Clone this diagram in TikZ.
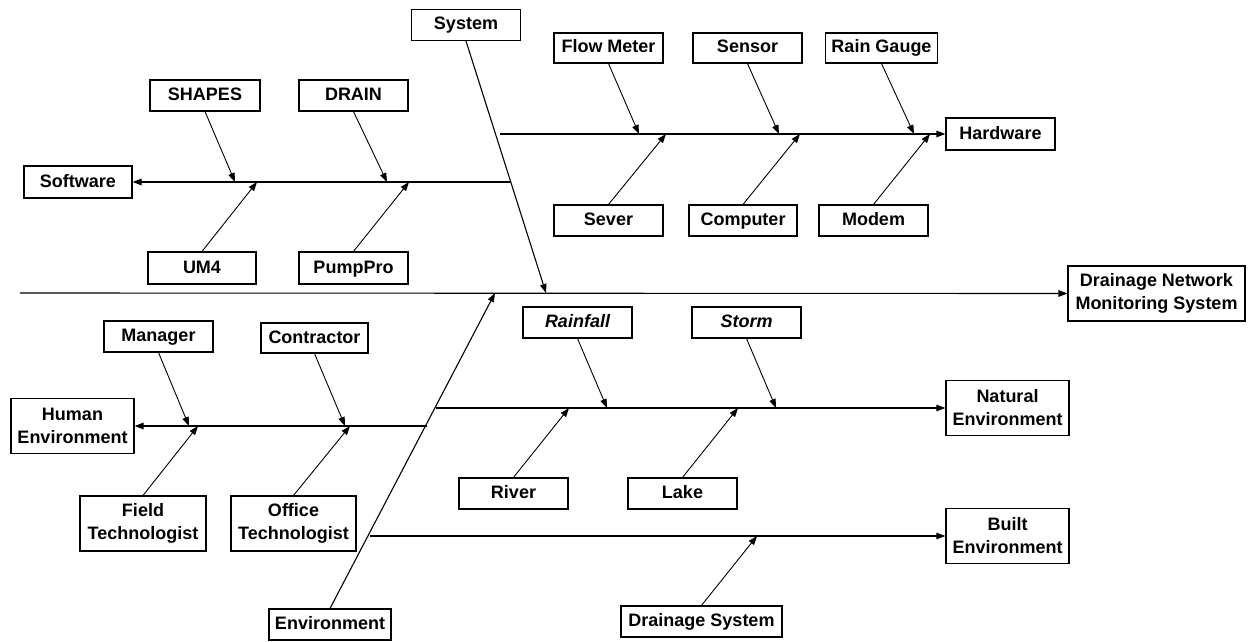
\documentclass[tikz,border=0pt]{standalone}
\usepackage{fontspec}
\setmainfont{Liberation Sans}
\usetikzlibrary{arrows.meta}
\begin{document}
\begin{tikzpicture}[x=1pt,y=-1pt,
  box/.style={draw, line width=1.1pt, inner sep=0pt, align=center,
    font=\fontsize{18}{23}\selectfont\bfseries, minimum height=31pt, minimum width=109pt},
  oneline/.style={box, text height=13pt, text depth=3pt},
  twoline/.style={box, minimum height=55pt},
  bone/.style={line width=0.9pt, -{Triangle[length=9pt,width=6.5pt]}},
  spine/.style={line width=1.1pt, -{Triangle[length=9pt,width=6.5pt]}}]
\useasboundingbox (0,0) rectangle (1256,642);

% ---- boxes: upper half ----
\node[oneline] (system) at (466,25) {System};
\node[oneline, minimum width=110pt] (shapes) at (205,95.5) {SHAPES};
\node[oneline] (drain) at (353.5,95.5) {DRAIN};
\node[oneline, minimum width=108pt, minimum height=32pt] (software) at (78,182) {Software};
\node[oneline, minimum width=108pt, minimum height=32pt] (um4) at (202,268) {UM4};
\node[oneline, minimum height=32pt] (pumppro) at (353.5,268) {PumpPro};
\node[oneline, minimum height=30pt] (flowmeter) at (608.5,48) {Flow Meter};
\node[oneline, minimum height=30pt] (sensor) at (747.5,48) {Sensor};
\node[oneline, minimum height=30pt, minimum width=112pt] (raingauge) at (881.5,48) {Rain Gauge};
\node[oneline, minimum height=32pt] (hardware) at (1000.5,134) {Hardware};
\node[oneline] (sever) at (608.5,220.5) {Sever};
\node[oneline, minimum width=108pt] (computer) at (743,220.5) {Computer};
\node[oneline] (modem) at (873.5,220.5) {Modem};

% ---- effect ----
\node[twoline, minimum width=177pt] (effect) at (1156.5,293.5) {Drainage Network\\Monitoring System};

% ---- boxes: lower half ----
\node[oneline] (manager) at (158.5,336.5) {Manager};
\node[oneline, minimum width=107pt, minimum height=30pt] (contractor) at (314.5,338) {Contractor};
\node[twoline, minimum width=123pt] (human) at (72.5,426) {Human\\Environment};
\node[twoline, minimum width=126pt] (field) at (143,523.5) {Field\\Technologist};
\node[twoline, minimum width=125pt] (office) at (293.5,523.5) {Office\\Technologist};
\node[oneline, minimum width=122pt] (environment) at (330,624.5) {Environment};
\node[oneline, font=\fontsize{18}{23}\selectfont\bfseries\itshape] (rainfall) at (577.5,322.5) {Rainfall};
\node[oneline, font=\fontsize{18}{23}\selectfont\bfseries\itshape] (storm) at (746.5,322.5) {Storm};
\node[oneline] (river) at (513.5,493.5) {River};
\node[oneline] (lake) at (682.5,493.5) {Lake};
\node[twoline, minimum width=123pt] (natural) at (1007.5,408) {Natural\\Environment};
\node[twoline, minimum width=123pt] (built) at (1007.5,536) {Built\\Environment};
\node[oneline, minimum width=161pt] (drainsys) at (701.5,621.5) {Drainage System};

% ---- spine points ----
\coordinate (tail) at (20,293);
\coordinate (sysend) at (546,293);
\coordinate (envend) at (495,293);
\coordinate (swstart) at (511,182);
\coordinate (hwstart) at (500,134);
\coordinate (hustart) at (427,426);
\coordinate (nastart) at (436,408);
\coordinate (bustart) at (370,536);

% ---- main spine and major bones ----
\draw[spine] (tail) -- (effect.west);
\draw[spine] (system.south) -- (sysend);
\draw[spine] (environment.north) -- (envend);
\draw[spine] (swstart) -- (software.east);
\draw[spine] (hwstart) -- (hardware.west);
\draw[spine] (hustart) -- (human.east);
\draw[spine] (nastart) -- (natural.west);
\draw[spine] (bustart) -- (built.west);

% ---- minor bones: software ----
\coordinate (shapes-t) at (235,182);
\coordinate (drain-t) at (387,182);
\coordinate (um4-t) at (257,182);
\coordinate (pumppro-t) at (409,182);
\draw[bone] (shapes.south) -- (shapes-t);
\draw[bone] (drain.south) -- (drain-t);
\draw[bone] (um4.north) -- (um4-t);
\draw[bone] (pumppro.north) -- (pumppro-t);

% ---- minor bones: hardware ----
\coordinate (flowmeter-t) at (639,134);
\coordinate (sensor-t) at (779,134);
\coordinate (raingauge-t) at (914,134);
\coordinate (sever-t) at (666,134);
\coordinate (computer-t) at (800,134);
\coordinate (modem-t) at (930,134);
\draw[bone] (flowmeter.south) -- (flowmeter-t);
\draw[bone] (sensor.south) -- (sensor-t);
\draw[bone] (raingauge.south) -- (raingauge-t);
\draw[bone] (sever.north) -- (sever-t);
\draw[bone] (computer.north) -- (computer-t);
\draw[bone] (modem.north) -- (modem-t);

% ---- minor bones: human environment ----
\coordinate (manager-t) at (189,426);
\coordinate (contractor-t) at (345,426);
\coordinate (field-t) at (198,426);
\coordinate (office-t) at (350,426);
\draw[bone] (manager.south) -- (manager-t);
\draw[bone] (contractor.south) -- (contractor-t);
\draw[bone] (field.north) -- (field-t);
\draw[bone] (office.north) -- (office-t);

% ---- minor bones: natural environment ----
\coordinate (rainfall-t) at (607,408);
\coordinate (storm-t) at (776,408);
\coordinate (river-t) at (569,408);
\coordinate (lake-t) at (738,408);
\draw[bone] (rainfall.south) -- (rainfall-t);
\draw[bone] (storm.south) -- (storm-t);
\draw[bone] (river.north) -- (river-t);
\draw[bone] (lake.north) -- (lake-t);

% ---- minor bones: built environment ----
\coordinate (drainsys-t) at (757,536);
\draw[bone] (drainsys.north) -- (drainsys-t);
\end{tikzpicture}
\end{document}
